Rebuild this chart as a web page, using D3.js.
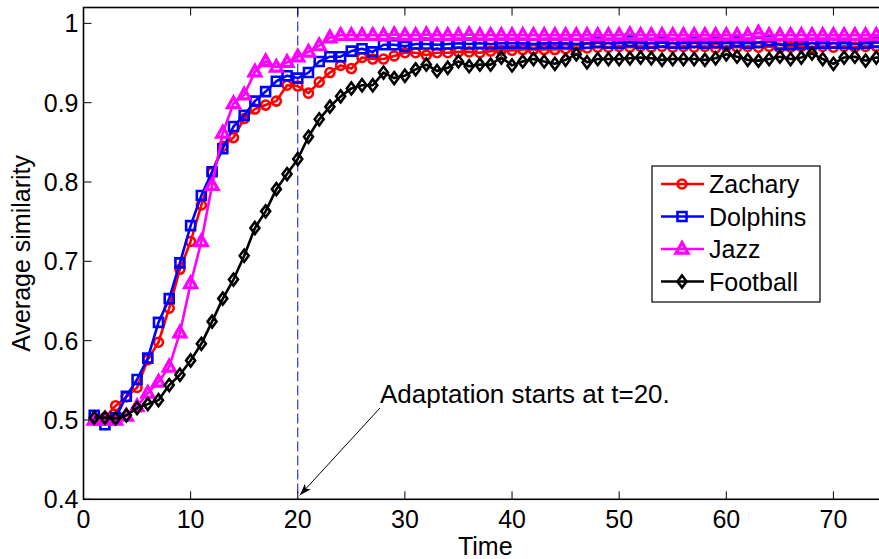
<!DOCTYPE html>
<html>
<head>
<meta charset="utf-8">
<script src="https://cdn.jsdelivr.net/npm/d3@7"></script>
<style>
  body { margin: 0; background: #fff; }
  text { font-family: "Liberation Sans", Arial, Helvetica, sans-serif; }
</style>
</head>
<body>
<script>
// Data
const seriesNames = ["Zachary", "Dolphins", "Jazz", "Football"];
const xTicks = [0, 10, 20, 30, 40, 50, 60, 70];
const yTicks = [0.4, 0.5, 0.6, 0.7, 0.8, 0.9, 1];
const yTickLabels = ["0.4", "0.5", "0.6", "0.7", "0.8", "0.9", "1"];

const zachary = [0.500, 0.503, 0.518, 0.529, 0.541, 0.576, 0.598, 0.641, 0.690, 0.725,
  0.771, 0.812, 0.845, 0.856, 0.880, 0.892, 0.897, 0.902, 0.922, 0.921,
  0.912, 0.926, 0.938, 0.947, 0.943, 0.957, 0.955, 0.955, 0.959, 0.963,
  0.963, 0.960, 0.963, 0.963, 0.964, 0.964, 0.963, 0.965, 0.966, 0.966,
  0.967, 0.967, 0.967, 0.967, 0.968, 0.967, 0.969, 0.970, 0.970, 0.971,
  0.970, 0.971, 0.970, 0.971, 0.970, 0.971, 0.970, 0.971, 0.969, 0.971,
  0.970, 0.971, 0.970, 0.971, 0.969, 0.970, 0.971, 0.970, 0.971, 0.970,
  0.971, 0.970, 0.971, 0.971, 0.971];
const dolphins = [0.506, 0.494, 0.503, 0.530, 0.551, 0.578, 0.623, 0.653, 0.698, 0.745,
  0.783, 0.813, 0.842, 0.870, 0.884, 0.902, 0.914, 0.927, 0.934, 0.931,
  0.938, 0.952, 0.958, 0.958, 0.965, 0.968, 0.964, 0.973, 0.973, 0.971,
  0.974, 0.974, 0.973, 0.974, 0.975, 0.974, 0.975, 0.974, 0.975, 0.975,
  0.975, 0.974, 0.975, 0.975, 0.975, 0.974, 0.975, 0.976, 0.975, 0.975,
  0.977, 0.975, 0.975, 0.976, 0.975, 0.975, 0.976, 0.975, 0.976, 0.975,
  0.977, 0.975, 0.976, 0.978, 0.973, 0.973, 0.974, 0.975, 0.975, 0.975,
  0.975, 0.974, 0.975, 0.976, 0.976];
const jazz = [0.500, 0.500, 0.500, 0.505, 0.517, 0.534, 0.548, 0.567, 0.610, 0.672,
  0.725, 0.796, 0.862, 0.899, 0.910, 0.939, 0.952, 0.945, 0.951, 0.958,
  0.964, 0.972, 0.982, 0.985, 0.985, 0.985, 0.985, 0.985, 0.986, 0.985,
  0.985, 0.986, 0.985, 0.985, 0.985, 0.986, 0.985, 0.985, 0.985, 0.985,
  0.985, 0.985, 0.985, 0.985, 0.985, 0.985, 0.985, 0.985, 0.985, 0.985,
  0.986, 0.985, 0.985, 0.985, 0.985, 0.985, 0.985, 0.985, 0.985, 0.985,
  0.985, 0.985, 0.988, 0.985, 0.985, 0.985, 0.985, 0.985, 0.985, 0.985,
  0.985, 0.985, 0.985, 0.985, 0.985];
const football = [0.503, 0.503, 0.502, 0.506, 0.515, 0.520, 0.525, 0.544, 0.557, 0.575,
  0.596, 0.624, 0.653, 0.677, 0.707, 0.742, 0.763, 0.791, 0.810, 0.829,
  0.857, 0.879, 0.895, 0.908, 0.918, 0.922, 0.922, 0.938, 0.931, 0.934,
  0.942, 0.948, 0.940, 0.944, 0.952, 0.946, 0.948, 0.948, 0.957, 0.947,
  0.952, 0.955, 0.952, 0.949, 0.954, 0.961, 0.951, 0.955, 0.955, 0.955,
  0.956, 0.957, 0.956, 0.954, 0.955, 0.955, 0.955, 0.954, 0.956, 0.961,
  0.958, 0.954, 0.953, 0.955, 0.958, 0.955, 0.957, 0.962, 0.955, 0.949,
  0.957, 0.958, 0.953, 0.957, 0.956];

const times = d3.range(1, zachary.length + 1);
const seriesValues = [zachary, dolphins, jazz, football];
const colors = ["#ff0000", "#0000ff", "#ff00ff", "#000000"];
const markers = ["circle", "square", "triangle", "diamond"];
const markerStroke = [2.6, 2.6, 3.2, 2.6];

// Layout
const width = 879;
const height = 559;
const margin = {top: 7.5, right: -8, bottom: 60, left: 83.5};

const svg = d3.select('body')
  .append('svg')
  .attr('width', width)
  .attr('height', height);

const x = d3.scaleLinear().domain([0, 75]).range([margin.left, width - margin.right]);
const y = d3.scaleLinear().domain([0.4, 1.02]).range([height - margin.bottom + 0.3, margin.top]);

// marker shapes drawn around (0,0)
function markerPath(type) {
  if (type === "circle") return d3.symbol().type(d3.symbolCircle).size(64)();
  if (type === "square") return "M-4.5,-4.5H4.5V4.5H-4.5Z";
  if (type === "triangle") return "M0,-6.5L6,4.2H-6Z";
  return "M0,-6L4.5,0L0,6L-4.5,0Z";
}

// clip for plot area
svg.append('clipPath').attr('id', 'plotclip')
  .append('rect')
  .attr('x', x(0)).attr('y', y(1.02))
  .attr('width', x(75) - x(0)).attr('height', y(0.4) - y(1.02));

// dashed vertical line at t=20
svg.append('line')
  .attr('x1', x(20)).attr('x2', x(20))
  .attr('y1', y(1.02)).attr('y2', y(0.4))
  .attr('stroke', '#0000ff')
  .attr('stroke-width', 1)
  .attr('stroke-dasharray', '10,4');

// series
const line = d3.line().x((d, i) => x(times[i])).y(d => y(d));
const plot = svg.append('g').attr('clip-path', 'url(#plotclip)');

seriesValues.forEach((vals, s) => {
  const g = plot.append('g').classed('series', true);
  g.append('path')
    .datum(vals)
    .attr('d', line)
    .attr('fill', 'none')
    .attr('stroke', colors[s])
    .attr('stroke-width', 2.6)
    .attr('stroke-linejoin', 'round');
  g.selectAll('.mark')
    .data(vals)
    .join('path')
    .classed('mark', true)
    .attr('transform', (d, i) => `translate(${x(times[i])},${y(d)})`)
    .attr('d', markerPath(markers[s]))
    .attr('fill', 'none')
    .attr('stroke', colors[s])
    .attr('stroke-width', markerStroke[s]);
});

// axes box
const x0 = x(0), x1 = x(75), yb = y(0.4), yt = y(1.02);
svg.append('rect')
  .attr('x', x0).attr('y', yt)
  .attr('width', x1 - x0).attr('height', yb - yt)
  .attr('fill', 'none')
  .attr('stroke', '#000')
  .attr('stroke-width', 1.6);

const tickLen = 8;
const ticks = svg.append('g').attr('stroke', '#000').attr('stroke-width', 1);
xTicks.forEach(t => {
  ticks.append('line').attr('x1', x(t)).attr('x2', x(t)).attr('y1', yb).attr('y2', yb - tickLen);
  ticks.append('line').attr('x1', x(t)).attr('x2', x(t)).attr('y1', yt).attr('y2', yt + tickLen);
});
yTicks.forEach(t => {
  ticks.append('line').attr('x1', x0).attr('x2', x0 + tickLen).attr('y1', y(t)).attr('y2', y(t));
  ticks.append('line').attr('x1', x1).attr('x2', x1 - tickLen).attr('y1', y(t)).attr('y2', y(t));
});

// tick labels
svg.append('g').selectAll('text')
  .data(xTicks)
  .join('text')
  .attr('x', d => x(d))
  .attr('y', yb + 29)
  .attr('text-anchor', 'middle')
  .attr('font-size', 25)
  .text(d => d);

svg.append('g').selectAll('text')
  .data(yTicks)
  .join('text')
  .attr('x', 78.5)
  .attr('y', d => y(d))
  .attr('dy', '0.36em')
  .attr('text-anchor', 'end')
  .attr('font-size', 25)
  .text((d, i) => yTickLabels[i]);

// axis titles
svg.append('text')
  .attr('x', (x0 + x1) / 2)
  .attr('y', 555)
  .attr('text-anchor', 'middle')
  .attr('font-size', 25)
  .text('Time');

svg.append('text')
  .attr('transform', `translate(30,${(yt + yb) / 2}) rotate(-90)`)
  .attr('text-anchor', 'middle')
  .attr('font-size', 25)
  .text('Average similarity');

// annotation with arrow
svg.append('defs').append('marker')
  .attr('id', 'arrowhead')
  .attr('viewBox', '0 -5 12 10')
  .attr('refX', 12).attr('refY', 0)
  .attr('markerWidth', 12).attr('markerHeight', 10)
  .attr('markerUnits', 'userSpaceOnUse')
  .attr('orient', 'auto')
  .append('path')
  .attr('d', 'M0,-4L12,0L0,4L3,0Z')
  .attr('fill', '#000');

svg.append('line')
  .attr('x1', 380).attr('y1', 408)
  .attr('x2', x(20) + 2).attr('y2', y(0.4) - 4)
  .attr('stroke', '#000')
  .attr('stroke-width', 1)
  .attr('marker-end', 'url(#arrowhead)');

svg.append('text')
  .attr('x', 380)
  .attr('y', 403)
  .attr('font-size', 26)
  .text('Adaptation starts at t=20.');

// legend
const legend = svg.append('g').attr('transform', 'translate(652,166)');
legend.append('rect')
  .attr('width', 168).attr('height', 136)
  .attr('fill', '#fff')
  .attr('stroke', '#000')
  .attr('stroke-width', 1.2);

seriesNames.forEach((name, s) => {
  const ly = 18 + s * 32.5;
  const item = legend.append('g').attr('transform', `translate(0,${ly})`);
  item.append('line')
    .attr('x1', 9).attr('x2', 52)
    .attr('stroke', colors[s])
    .attr('stroke-width', 2.6);
  item.append('path')
    .attr('transform', 'translate(30,0)')
    .attr('d', markerPath(markers[s]))
    .attr('fill', 'none')
    .attr('stroke', colors[s])
    .attr('stroke-width', markerStroke[s]);
  item.append('text')
    .attr('x', 57)
    .attr('y', 0)
    .attr('dy', '0.36em')
    .attr('font-size', 25)
    .text(name);
});
</script>
</body>
</html>
